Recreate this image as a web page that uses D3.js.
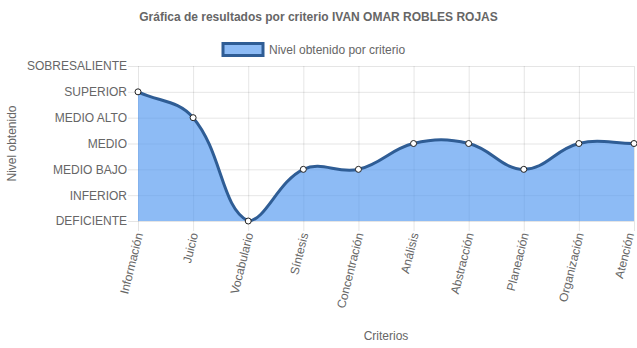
<!DOCTYPE html>
<html>
<head>
<meta charset="utf-8">
<script src="https://cdn.jsdelivr.net/npm/d3@7"></script>
<style>
  html, body { margin: 0; padding: 0; background: #fff; }
  svg { display: block; font-family: "Liberation Sans", Arial, Helvetica, sans-serif; }
</style>
</head>
<body>
<svg id="chart" width="637" height="348"></svg>
<script>
// Evaluated criteria and the level reached in each one (index into levels)
const categories = ["Información", "Juicio", "Vocabulario", "Síntesis", "Concentración",
                    "Análisis", "Abstracción", "Planeación", "Organización", "Atención"];
const values = [5, 4, 0, 2, 2, 3, 3, 2, 3, 3];
const levels = ["DEFICIENTE", "INFERIOR", "MEDIO BAJO", "MEDIO", "MEDIO ALTO", "SUPERIOR", "SOBRESALIENTE"];
const title = "Gráfica de resultados por criterio IVAN OMAR ROBLES ROJAS";
const seriesName = "Nivel obtenido por criterio";
const yTitle = "Nivel obtenido";
const xTitle = "Criterios";

const W = 637, H = 348;
const area = { left: 138, right: 634, top: 66, bottom: 221 };
const textColor = "#666";
const gridColor = "rgba(0,0,0,0.1)";
const lineColor = "#2f5d95";
const fillColor = "rgba(80,150,240,0.65)";

const svg = d3.select("#chart");

const x = d3.scalePoint().domain(categories).range([area.left, area.right]);
const y = d3.scaleLinear().domain([0, levels.length - 1]).range([area.bottom, area.top]);

// Title
svg.append("text")
  .attr("x", W / 2).attr("y", 21)
  .attr("text-anchor", "middle")
  .attr("font-size", 12).attr("font-weight", "bold")
  .attr("fill", textColor)
  .text(title);

// Legend
const legend = svg.append("g");
legend.append("rect")
  .attr("x", 223).attr("y", 43.5).attr("width", 40).attr("height", 12)
  .attr("fill", fillColor).attr("stroke", lineColor).attr("stroke-width", 3);
legend.append("text")
  .attr("x", 269).attr("y", 54)
  .attr("font-size", 12).attr("fill", textColor)
  .text(seriesName);

// Horizontal grid lines with tick marks and level labels
const yAxis = d3.axisLeft(y)
  .tickValues(d3.range(levels.length))
  .tickFormat(i => levels[i])
  .tickSize(10)
  .tickPadding(1);
const gy = svg.append("g").attr("transform", `translate(${area.left},0)`).call(yAxis);
gy.select(".domain").remove();
gy.selectAll(".tick line").attr("stroke", gridColor);
gy.selectAll(".tick text").attr("fill", textColor).attr("font-size", 12)
  .attr("font-family", "Liberation Sans, Arial, sans-serif");
svg.append("g").selectAll("line").data(d3.range(levels.length)).join("line")
  .attr("x1", area.left).attr("x2", area.right)
  .attr("y1", d => y(d) + 0.5).attr("y2", d => y(d) + 0.5)
  .attr("stroke", gridColor);

// Vertical grid lines with tick marks
svg.append("g").selectAll("line").data(categories).join("line")
  .attr("x1", d => x(d) + 0.5).attr("x2", d => x(d) + 0.5)
  .attr("y1", area.top).attr("y2", area.bottom + 10)
  .attr("stroke", gridColor);

// Rotated category labels, kept inside the right edge of the canvas
svg.append("g").selectAll("text").data(categories).join("text")
  .attr("transform", d => `translate(${Math.min(x(d) + 1, W - 7)},${area.bottom + 12}) rotate(-76)`)
  .attr("text-anchor", "end")
  .attr("dy", "0.35em")
  .attr("font-size", 12).attr("fill", textColor)
  .text(d => d);

// Axis titles
svg.append("text")
  .attr("transform", `translate(16,${(area.top + area.bottom) / 2}) rotate(-90)`)
  .attr("text-anchor", "middle")
  .attr("font-size", 12).attr("fill", textColor)
  .text(yTitle);
svg.append("text")
  .attr("x", (area.left + area.right) / 2).attr("y", 340)
  .attr("text-anchor", "middle")
  .attr("font-size", 12).attr("fill", textColor)
  .text(xTitle);

// Bezier spline through the points (tension 0.4), control points kept inside the plot area
const pts = categories.map((c, i) => ({ x: x(c), y: y(values[i]) }));
const tension = 0.4;
pts.forEach((p, i) => {
  const p0 = pts[Math.max(0, i - 1)], p2 = pts[Math.min(pts.length - 1, i + 1)];
  const d01 = Math.hypot(p.x - p0.x, p.y - p0.y);
  const d12 = Math.hypot(p2.x - p.x, p2.y - p.y);
  let s01 = d01 / (d01 + d12), s12 = d12 / (d01 + d12);
  if (!isFinite(s01)) s01 = 0;
  if (!isFinite(s12)) s12 = 0;
  const fa = tension * s01, fb = tension * s12;
  const clampX = v => Math.max(area.left, Math.min(area.right, v));
  const clampY = v => Math.max(area.top, Math.min(area.bottom, v));
  p.cpPrev = { x: clampX(p.x - fa * (p2.x - p0.x)), y: clampY(p.y - fa * (p2.y - p0.y)) };
  p.cpNext = { x: clampX(p.x + fb * (p2.x - p0.x)), y: clampY(p.y + fb * (p2.y - p0.y)) };
});
const path = d3.path();
path.moveTo(pts[0].x, pts[0].y);
for (let i = 1; i < pts.length; i++) {
  const a = pts[i - 1], b = pts[i];
  path.bezierCurveTo(a.cpNext.x, a.cpNext.y, b.cpPrev.x, b.cpPrev.y, b.x, b.y);
}
const lineD = path.toString();

svg.append("path")
  .attr("d", lineD + `L${pts[pts.length - 1].x},${y(0)}L${pts[0].x},${y(0)}Z`)
  .attr("fill", fillColor);
svg.append("path")
  .attr("d", lineD)
  .attr("fill", "none")
  .attr("stroke", lineColor)
  .attr("stroke-width", 3);

// Point markers
svg.append("g").selectAll("circle").data(pts).join("circle")
  .attr("cx", d => d.x).attr("cy", d => d.y).attr("r", 3)
  .attr("fill", "#fff").attr("stroke", "#222").attr("stroke-width", 1);
</script>
</body>
</html>
